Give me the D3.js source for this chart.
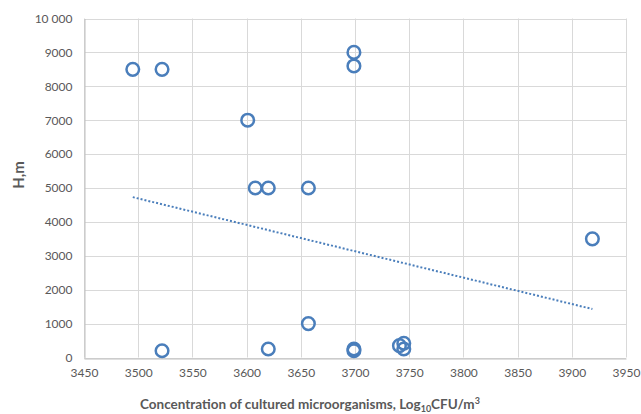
<!DOCTYPE html>
<html>
<head>
<meta charset="utf-8">
<script src="https://cdn.jsdelivr.net/npm/d3@7"></script>
<style>
  html, body { margin: 0; padding: 0; background: #fff; }
  svg text { font-family: Lato, "Open Sans", "Liberation Sans", sans-serif; }
</style>
</head>
<body>
<svg id="chart" width="641" height="414"></svg>
<script>
// ---- data ----
const concentration = [3495, 3522, 3601, 3608, 3620, 3657, 3699, 3699, 3522, 3620, 3657, 3699, 3699, 3741, 3745, 3745, 3919];
const heights       = [8500, 8500, 7000, 5000, 5000, 5000, 9000, 8600, 200, 250, 1000, 250, 200, 350, 420, 250, 3500];
const trendX = [3495, 3919];
const trendY = [4730, 1430];
const xTicks = [3450, 3500, 3550, 3600, 3650, 3700, 3750, 3800, 3850, 3900, 3950];
const yTicks = [0, 1000, 2000, 3000, 4000, 5000, 6000, 7000, 8000, 9000, 10000];
const yTickLabels = ["0", "1000", "2000", "3000", "4000", "5000", "6000", "7000", "8000", "9000", "10 000"];

const svg = d3.select("#chart");
const x = d3.scaleLinear().domain([3450, 3950]).range([84, 626]);
const y = d3.scaleLinear().domain([0, 10000]).range([357.5, 18.5]);

const blue = "#4a7ebb";
const grid = "#d9d9d9";
const textCol = "#595959";

// grid lines
svg.append("g").selectAll("line.v").data(xTicks).join("line")
  .attr("x1", d => Math.round(x(d)) + 0.5).attr("x2", d => Math.round(x(d)) + 0.5)
  .attr("y1", y(10000)).attr("y2", y(0))
  .attr("stroke", grid).attr("stroke-width", 1);
svg.append("g").selectAll("line.h").data(yTicks).join("line")
  .attr("x1", x(3450)).attr("x2", x(3950))
  .attr("y1", d => Math.round(y(d)) + 0.5).attr("y2", d => Math.round(y(d)) + 0.5)
  .attr("stroke", grid).attr("stroke-width", 1);

// axes
const xAxis = d3.axisBottom(x).tickValues(xTicks).tickSize(0).tickPadding(10).tickFormat(d3.format("d"));
const gx = svg.append("g").attr("transform", `translate(0,${Math.round(y(0)) + 0.5})`).call(xAxis);
gx.select(".domain").attr("stroke", "#bfbfbf");
gx.selectAll("text").attr("fill", textCol).attr("font-size", 12);

const yAxis = d3.axisLeft(y).tickValues(yTicks).tickSize(0).tickPadding(12).tickFormat((d, i) => yTickLabels[i]);
const gy = svg.append("g").attr("transform", `translate(${Math.round(x(3450)) + 0.5},0)`).call(yAxis);
gy.select(".domain").attr("stroke", "#bfbfbf");
gy.selectAll("text").attr("fill", textCol).attr("font-size", 12);

// trendline
svg.append("line")
  .attr("x1", x(trendX[0])).attr("y1", y(trendY[0]))
  .attr("x2", x(trendX[1])).attr("y2", y(trendY[1]))
  .attr("stroke", blue).attr("stroke-width", 2).attr("stroke-dasharray", "2,2");

// points
svg.append("g").selectAll("circle").data(concentration).join("circle")
  .attr("cx", d => x(d)).attr("cy", (d, i) => y(heights[i]))
  .attr("r", 6.3).attr("fill", "none").attr("stroke", blue).attr("stroke-width", 2.5);

// axis titles
const xt = svg.append("text").attr("x", 310).attr("y", 409).attr("text-anchor", "middle")
  .attr("fill", textCol).attr("font-size", 13.5).attr("font-weight", "bold");
xt.append("tspan").text("Concentration of cultured microorganisms, Log");
xt.append("tspan").attr("font-size", 9).attr("dy", 3).text("10");
xt.append("tspan").attr("dy", -3).text("CFU/m");
xt.append("tspan").attr("font-size", 9).attr("dy", -5).text("3");

svg.append("text").attr("transform", "translate(24,175) rotate(-90)").attr("text-anchor", "middle")
  .attr("fill", textCol).attr("font-size", 15).attr("font-weight", "bold").text("H,m");
</script>
</body>
</html>
